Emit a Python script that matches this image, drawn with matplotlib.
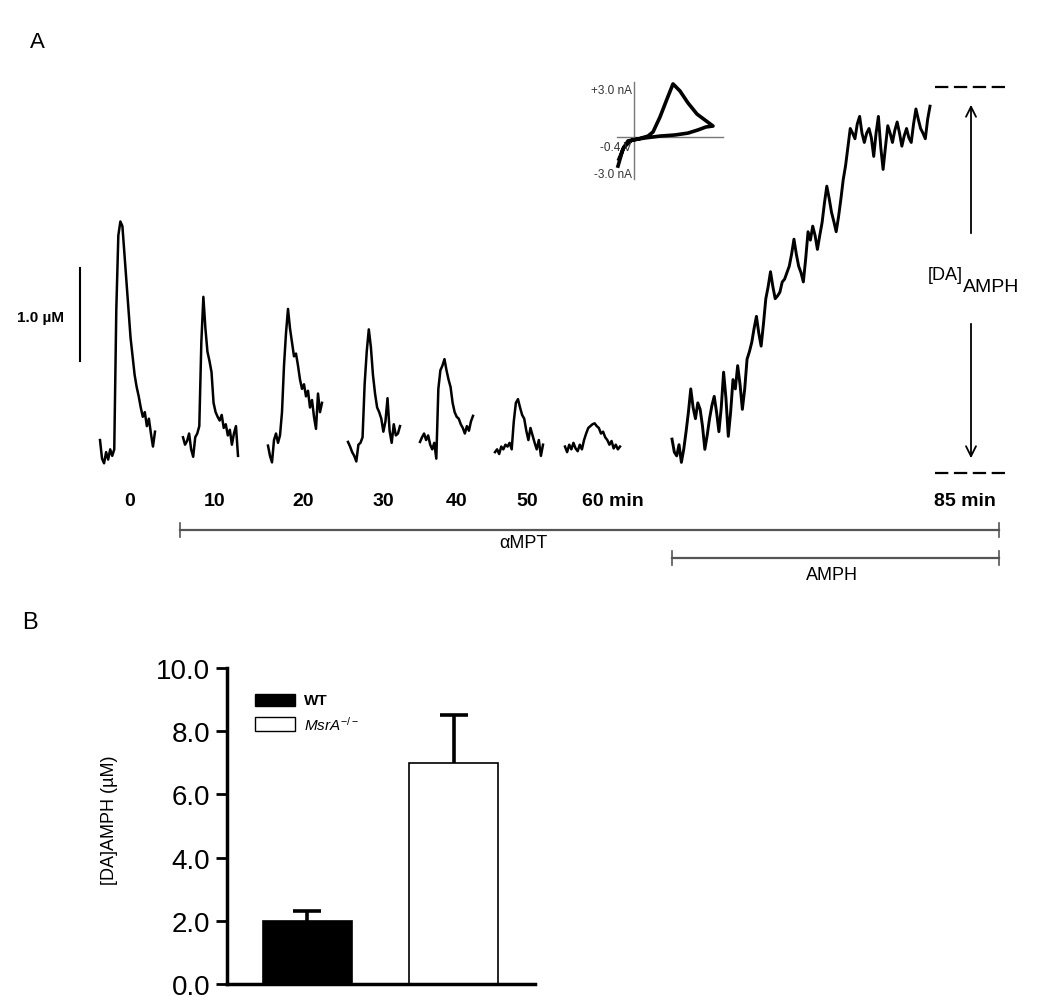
import numpy as np
import matplotlib
matplotlib.use('Agg')
import matplotlib.pyplot as plt
from matplotlib.lines import Line2D
from matplotlib.patches import Rectangle

plt.rcParams['font.family'] = ['Liberation Sans', 'DejaVu Sans']
plt.rcParams['mathtext.fontset'] = 'custom'
plt.rcParams['mathtext.rm'] = 'Liberation Sans'
plt.rcParams['mathtext.it'] = 'Liberation Sans:italic'

# ---- panel A data: evoked DA traces (uM above baseline) ----
trace_labels = ['0', '10', '20', '30', '40', '50', '60 min']
trace_0 = [0.15, -0.05, -0.10, 0.02, -0.06, 0.05, -0.02, 0.05, 1.55, 2.35, 2.50, 2.45, 2.15, 1.85,
           1.55, 1.25, 1.05, 0.85, 0.72, 0.62, 0.50, 0.40, 0.45, 0.30, 0.38, 0.22, 0.08, 0.24]
trace_10 = [0.18, 0.10, 0.14, 0.22, 0.05, -0.03, 0.18, 0.22, 0.30, 1.20, 1.69, 1.35, 1.10, 1.00,
            0.88, 0.55, 0.45, 0.40, 0.36, 0.42, 0.28, 0.32, 0.20, 0.26, 0.10, 0.22, 0.30, -0.02]
trace_20 = [0.09, -0.02, -0.09, 0.15, 0.22, 0.12, 0.20, 0.45, 0.95, 1.30, 1.56, 1.35, 1.20, 1.05,
            1.08, 0.95, 0.80, 0.70, 0.75, 0.62, 0.68, 0.50, 0.58, 0.40, 0.27, 0.65, 0.45, 0.55]
trace_30 = [0.13, 0.08, 0.02, -0.02, -0.08, 0.10, 0.12, 0.18, 0.75, 1.10, 1.34, 1.15, 0.85,
            0.65, 0.50, 0.45, 0.38, 0.24, 0.35, 0.60, 0.25, 0.12, 0.32, 0.20, 0.22, 0.30]
trace_40 = [0.13, 0.18, 0.22, 0.15, 0.20, 0.10, 0.05, 0.12, -0.05, 0.70, 0.90, 0.95, 1.02, 0.90,
            0.80, 0.72, 0.55, 0.45, 0.40, 0.38, 0.32, 0.28, 0.22, 0.30, 0.25, 0.35, 0.41]
trace_50 = [0.02, 0.05, 0.00, 0.08, 0.05, 0.10, 0.08, 0.12, 0.05, 0.35, 0.55, 0.59, 0.50, 0.42,
            0.38, 0.25, 0.15, 0.28, 0.20, 0.12, 0.05, 0.15, -0.02, 0.10]
trace_60 = [0.08, 0.02, 0.10, 0.05, 0.12, 0.06, 0.03, 0.10, 0.05, 0.15, 0.22, 0.28, 0.30, 0.32,
            0.33, 0.30, 0.28, 0.22, 0.24, 0.18, 0.15, 0.10, 0.14, 0.06, 0.10, 0.05, 0.08]
amph_label = '85 min'
amph_trace = [0.16, 0.02, -0.02, 0.10, -0.09, 0.05, 0.24, 0.45, 0.70, 0.50, 0.38, 0.55, 0.48, 0.30,
              0.05, 0.20, 0.38, 0.52, 0.62, 0.45, 0.24, 0.50, 0.88, 0.60, 0.19, 0.45, 0.80, 0.70,
              0.95, 0.75, 0.48, 0.70, 1.02, 1.10, 1.20, 1.35, 1.48, 1.30, 1.16, 1.40, 1.67, 1.80,
              1.96, 1.80, 1.67, 1.70, 1.74, 1.85, 1.88, 1.95, 2.02, 2.15, 2.31, 2.15, 2.02, 1.95,
              1.85, 2.10, 2.39, 2.30, 2.45, 2.35, 2.20, 2.35, 2.49, 2.70, 2.88, 2.75, 2.60, 2.50,
              2.39, 2.55, 2.74, 2.95, 3.10, 3.30, 3.50, 3.45, 3.39, 3.55, 3.63, 3.45, 3.35, 3.45,
              3.50, 3.40, 3.20, 3.45, 3.63, 3.30, 3.06, 3.30, 3.53, 3.45, 3.35, 3.48, 3.57, 3.45,
              3.31, 3.42, 3.50, 3.40, 3.35, 3.55, 3.71, 3.60, 3.50, 3.45, 3.39, 3.60, 3.74]

# inset cyclic voltammogram
cv_potential = [-0.744, -0.637, -0.529, -0.314, -0.099, 0.009, 0.159, 0.310, 0.439, 0.589, 0.761,
                0.955, 1.127, 1.299, 1.148, 0.976, 0.761, 0.482, 0.159, -0.163, -0.443, -0.615, -0.723]
cv_current = [-1.85, -0.76, -0.25, -0.13, 0.06, 0.32, 1.27, 2.42, 3.38, 2.93, 2.17,
              1.46, 1.08, 0.70, 0.64, 0.45, 0.25, 0.13, 0.06, -0.06, -0.19, -0.64, -1.40]

# ---- panel B data ----
groups = ['WT', 'MsrA-/-']
da_amph = [2.0, 7.0]
da_amph_sem = [0.3, 1.5]
yticks_b = [0, 2, 4, 6, 8, 10]

W, H = 1050, 1003


def fx(x):
    return x / W


def fy(y):
    return 1 - y / H


fig = plt.figure(figsize=(W / 100, H / 100), dpi=100)

# ---------------- panel A ----------------
px_per_uM = 93.0
base_px = 455.0
axA = fig.add_axes([0, 0, 1, 1])
axA.set_xlim(0, W)
axA.set_ylim((base_px - H) / px_per_uM, base_px / px_per_uM)
axA.axis('off')

spans = [(100, 155), (183, 238), (268, 322), (348, 400), (420, 473), (495, 543), (565, 620)]
traces = [trace_0, trace_10, trace_20, trace_30, trace_40, trace_50, trace_60]
for vals, (x0, x1) in zip(traces, spans):
    axA.plot(np.linspace(x0, x1, len(vals)), vals, color='k', lw=1.8)
axA.plot(np.linspace(672, 930, len(amph_trace)), amph_trace, color='k', lw=2.1)

# scale bar 1.0 uM
axA.plot([80, 80], [1.0, 2.0], color='k', lw=1.5)
fig.text(fx(40), fy(318), '1.0 µM', ha='center', va='center', fontsize=11, fontweight='bold')

# time labels
label_x = [130, 215, 303, 383, 457, 527, 613, 965]
for lab, x in zip(trace_labels + [amph_label], label_x):
    fig.text(fx(x), fy(502), lab, ha='center', va='center', fontsize=14, fontweight='bold')

# treatment bars
def timeline(x0, x1, y, label, lx, ly):
    fig.add_artist(Line2D([fx(x0), fx(x1)], [fy(y), fy(y)], color='#555555', lw=1.6,
                          transform=fig.transFigure))
    for xe in (x0, x1):
        fig.add_artist(Line2D([fx(xe), fx(xe)], [fy(y - 7), fy(y + 7)], color='#555555', lw=1.2,
                              transform=fig.transFigure))
    fig.text(fx(lx), fy(ly), label, ha='center', va='center', fontsize=13)


timeline(180, 999, 531, 'αMPT', 523, 544)
timeline(672, 999, 559, 'AMPH', 832, 576)

# [DA]AMPH bracket
top_v = (base_px - 88) / px_per_uM
bot_v = (base_px - 474) / px_per_uM
for v in (top_v, bot_v):
    axA.plot([935, 1010], [v, v], color='k', lw=1.6, ls=(0, (6, 2.5)))
axA.annotate('', xy=(971, (base_px - 103) / px_per_uM), xytext=(971, (base_px - 237) / px_per_uM),
             arrowprops=dict(arrowstyle='->', lw=1.3, color='k', mutation_scale=18))
axA.annotate('', xy=(971, (base_px - 462) / px_per_uM), xytext=(971, (base_px - 322) / px_per_uM),
             arrowprops=dict(arrowstyle='->', lw=1.3, color='k', mutation_scale=18))
fig.text(fx(963), fy(276), '[DA]', ha='right', va='center', fontsize=13)
fig.text(fx(963), fy(288), 'AMPH', ha='left', va='center', fontsize=14)

# inset CV
axI = fig.add_axes([fx(600), fy(185), (730 - 600) / W, (185 - 78) / H])
axI.set_xlim(-1.131, 1.665)
axI.set_ylim(-2.99, 3.82)
axI.axis('off')
axI.plot([-0.4, -0.4], [-2.68, 3.50], color='#777777', lw=1)
axI.plot([-0.766, 1.514], [0, 0], color='#777777', lw=1)
axI.plot(cv_potential, cv_current, color='k', lw=2.6, solid_joinstyle='round')
fig.text(fx(632), fy(91), '+3.0 nA', ha='right', va='center', fontsize=8.5, color='#333333')
fig.text(fx(632), fy(148), '-0.4 V', ha='right', va='center', fontsize=8.5, color='#333333')
fig.text(fx(632), fy(175), '-3.0 nA', ha='right', va='center', fontsize=8.5, color='#333333')

fig.text(fx(37), fy(42), 'A', ha='center', va='center', fontsize=16)

# ---------------- panel B ----------------
fig.text(fx(30), fy(623), 'B', ha='center', va='center', fontsize=17)
axB = fig.add_axes([fx(227), fy(985), (535 - 227) / W, (985 - 669) / H])
xb = np.arange(len(groups))
axB.bar(xb, da_amph, width=0.61, color=['black', 'white'], edgecolor='black', linewidth=1.2)
eb = axB.errorbar(xb, da_amph, yerr=[[0, 0], da_amph_sem], fmt='none', ecolor='black',
                  elinewidth=2.6, capsize=10, capthick=2.6)
eb[1][0].set_visible(False)  # only the upper cap
axB.set_xlim(-0.551, 1.558)
axB.set_ylim(0, 10)
axB.set_yticks(yticks_b)
axB.set_yticklabels([f'{v:.1f}' for v in yticks_b])
axB.set_xticks([])
for s in ('top', 'right'):
    axB.spines[s].set_visible(False)
for s in ('left', 'bottom'):
    axB.spines[s].set_linewidth(2.5)
axB.tick_params(axis='y', length=8, width=2, labelsize=20, pad=4)
fig.text(fx(110), fy(820), '[DA]AMPH (µM)', rotation=90, ha='center', va='center', fontsize=13)

# legend
fig.add_artist(Rectangle((fx(255), fy(707)), 40 / W, 12 / H, facecolor='black', edgecolor='black',
                         transform=fig.transFigure))
fig.add_artist(Rectangle((fx(255), fy(732)), 40 / W, 14 / H, facecolor='white', edgecolor='black',
                         lw=1, transform=fig.transFigure))
fig.text(fx(304), fy(701), groups[0], ha='left', va='center', fontsize=11, fontweight='bold')
fig.text(fx(304), fy(725), r'$\mathit{MsrA}^{\mathit{-/-}}$', ha='left', va='center', fontsize=11)

fig.savefig('out.png', dpi=100)
